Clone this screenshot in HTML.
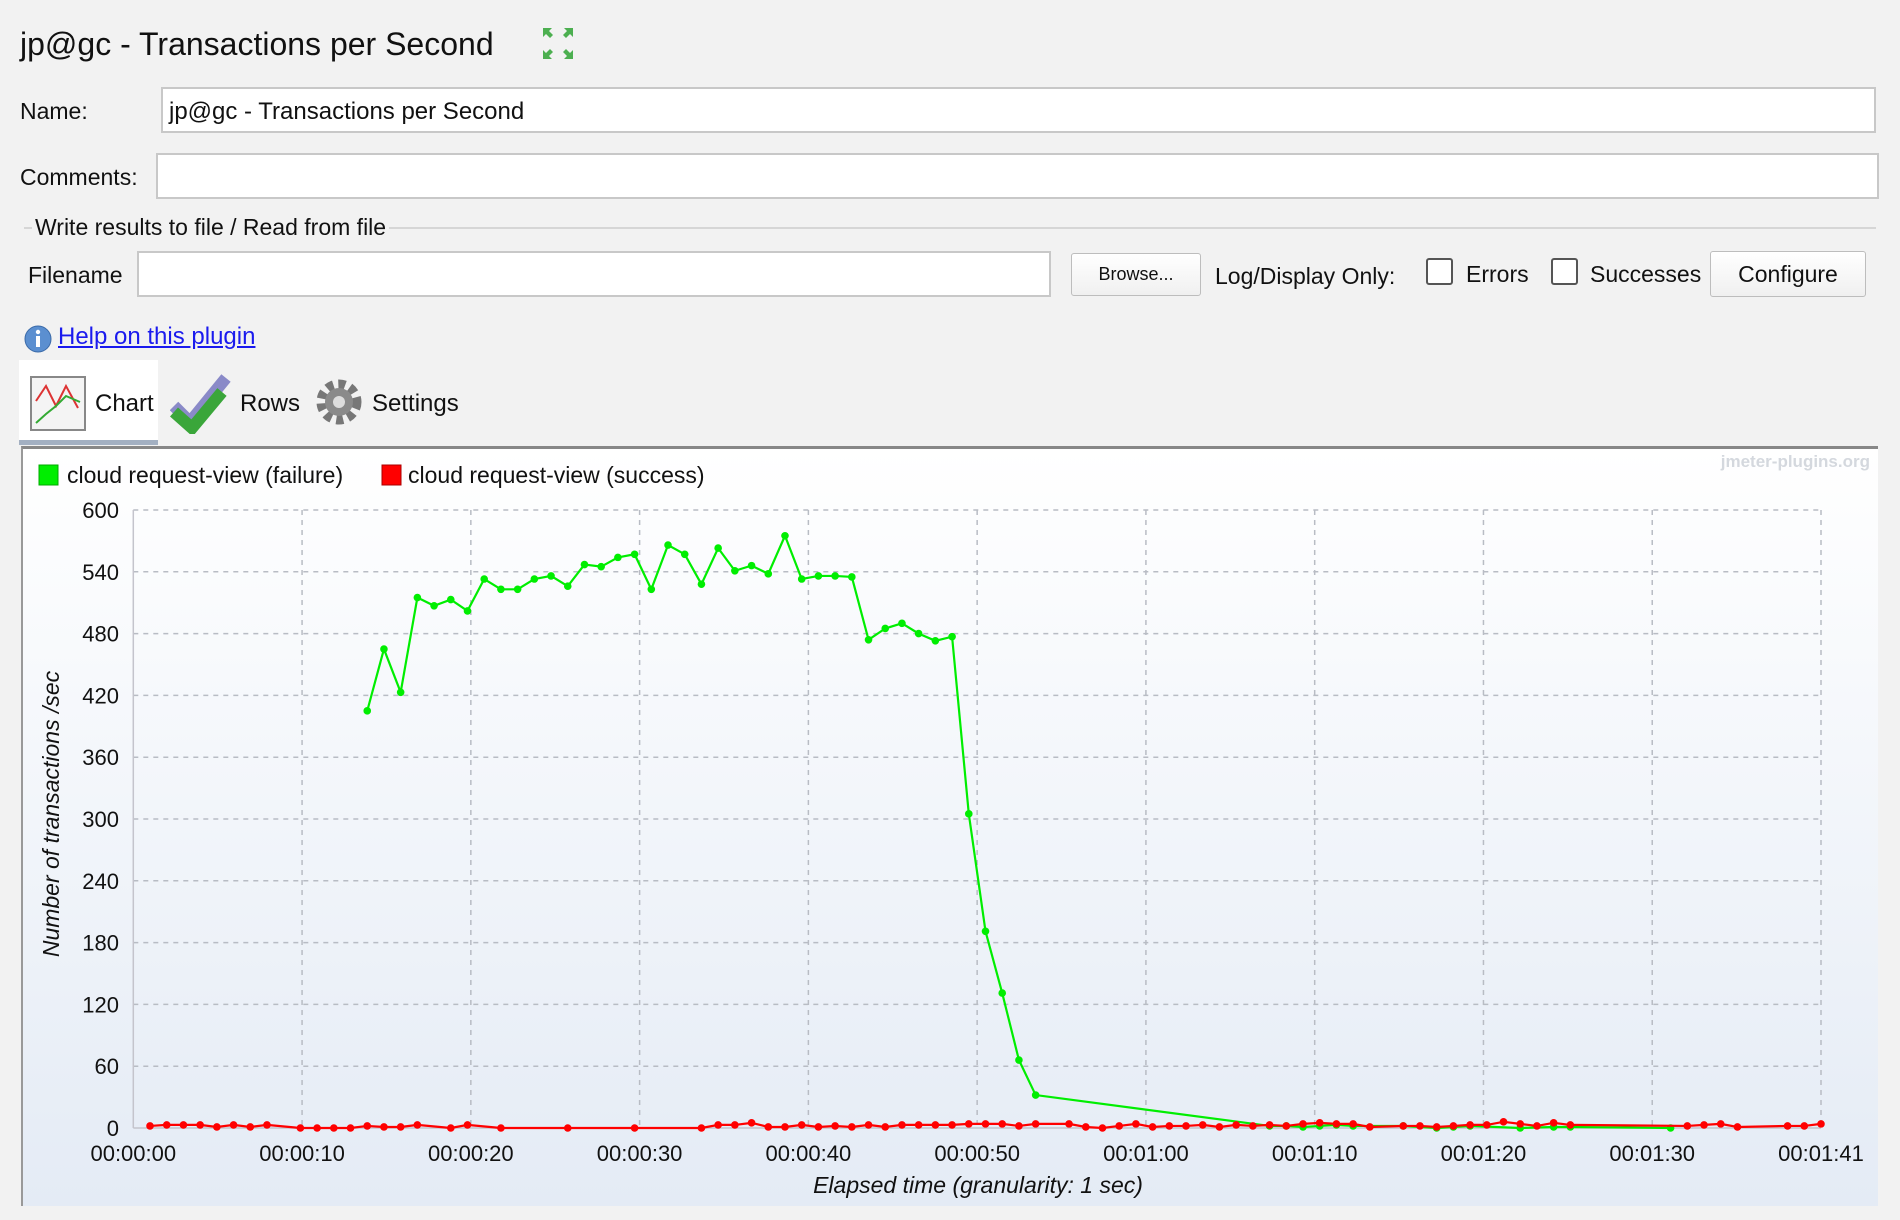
<!DOCTYPE html>
<html><head><meta charset="utf-8">
<style>
body{margin:0;width:1900px;height:1220px;background:#f2f2f2;font-family:"Liberation Sans",sans-serif;color:#111;position:relative;overflow:hidden}
.a{position:absolute;white-space:nowrap}
.inp{position:absolute;background:#fff;border:2px solid #c8c8c8;box-sizing:border-box}
.btn{position:absolute;background:linear-gradient(#fff,#f0f0f0);border:1px solid #bdbdbd;border-radius:3px;box-sizing:border-box;text-align:center}
.cb{position:absolute;width:27px;height:27px;background:#fff;border:2px solid #555;box-sizing:border-box;border-radius:3px}
</style></head><body>
<div class="a" style="left:20px;top:26px;font-size:32px">jp@gc - Transactions per Second</div>
<svg class="a" style="left:542px;top:27px" width="32" height="33" viewBox="0 0 32 33"><g fill="#4caf50"><path d="M1 1h9l-3 3 4 4-3 3-4-4-3 3z"/><path d="M31 1h-9l3 3-4 4 3 3 4-4 3 3z"/><path d="M1 32h9l-3-3 4-4-3-3-4 4-3-3z"/><path d="M31 32h-9l3-3-4-4 3-3 4 4 3-3z"/></g></svg>
<div class="a" style="left:20px;top:98px;font-size:23px">Name:</div>
<div class="inp" style="left:161px;top:87px;width:1715px;height:46px;font-size:24px;padding:9px 6px">jp@gc - Transactions per Second</div>
<div class="a" style="left:20px;top:164px;font-size:23px">Comments:</div>
<div class="inp" style="left:156px;top:153px;width:1723px;height:46px"></div>
<div class="a" style="left:24px;top:227px;width:1852px;height:2px;background:#d6d6d6"></div>
<div class="a" style="left:32px;top:214px;font-size:23px;background:#f2f2f2;padding:0 3px">Write results to file / Read from file</div>
<div class="a" style="left:28px;top:262px;font-size:23px">Filename</div>
<div class="inp" style="left:137px;top:251px;width:914px;height:46px"></div>
<div class="btn" style="left:1071px;top:253px;width:130px;height:43px;font-size:18px;line-height:41px">Browse...</div>
<div class="a" style="left:1215px;top:263px;font-size:23px">Log/Display Only:</div>
<div class="cb" style="left:1426px;top:258px"></div>
<div class="a" style="left:1466px;top:261px;font-size:23px">Errors</div>
<div class="cb" style="left:1551px;top:258px"></div>
<div class="a" style="left:1590px;top:261px;font-size:23px">Successes</div>
<div class="btn" style="left:1710px;top:251px;width:156px;height:46px;font-size:23px;line-height:44px">Configure</div>
<svg class="a" style="left:24px;top:325px" width="28" height="28"><circle cx="14" cy="14" r="13" fill="#5b8fd0" stroke="#3a6aa8"/><rect x="12" y="11" width="4" height="11" fill="#fff"/><circle cx="14" cy="7" r="2.2" fill="#fff"/></svg>
<div class="a" style="left:58px;top:323px;font-size:24px;color:#1a1aee;text-decoration:underline">Help on this plugin</div>
<div class="a" style="left:19px;top:360px;width:139px;height:80px;background:#fff"></div>
<div class="a" style="left:19px;top:440px;width:139px;height:5px;background:#a3b0c2"></div>
<svg class="a" style="left:30px;top:376px" width="56" height="55"><rect x="1" y="1" width="54" height="53" fill="#f4f4f4" stroke="#888" stroke-width="2"/><path d="M6 25 L16 10 L26 30 L36 10 L48 32" fill="none" stroke="#d33" stroke-width="2"/><path d="M6 47 L16 38 L26 30 L36 20 L50 26" fill="none" stroke="#3a3" stroke-width="2"/></svg>
<div class="a" style="left:95px;top:390px;font-size:24px">Chart</div>
<svg class="a" style="left:170px;top:370px" width="62" height="64"><path d="M4 36 L20 52 L56 8" fill="none" stroke="#8a8ac8" stroke-width="12"/><path d="M4 42 L22 58 L52 22" fill="none" stroke="#3aa63a" stroke-width="12"/></svg>
<div class="a" style="left:240px;top:390px;font-size:24px">Rows</div>
<svg class="a" style="left:315px;top:378px" width="48" height="48"><circle cx="24" cy="24" r="18" fill="none" stroke="#777" stroke-width="9" stroke-dasharray="7 5"/><circle cx="24" cy="24" r="14" fill="#8a8a8a"/><circle cx="24" cy="24" r="6" fill="#ddd"/></svg>
<div class="a" style="left:372px;top:390px;font-size:24px">Settings</div>

<div class="a" style="left:21px;top:446px;width:1857px;height:760px;background:linear-gradient(#ffffff,#e4ebf5);border-top:3px solid #888;border-left:2px solid #999;box-sizing:border-box"></div>
<svg id="chart" class="a" style="left:0;top:0" width="1900" height="1220"></svg>
<script>
const seconds = Array.from({length:102},(_, i)=>i);
const failureValues = [null,null,null,null,null,null,null,null,null,null,null,null,null,null,
405,465,423,515,507,513,502,533,523,523,533,536,526,547,545,554,557,523,566,557,528,563,541,546,538,575,533,536,536,535,474,485,490,480,473,477,305,191,131,66,32,
null,null,null,null,null,null,null,null,null,null,null,null,null,
2,2,1,2,3,2,null,null,2,null,0,1,2,null,null,0,null,1,1,null,null,null,null,null,0,null,null,null,null,null,null,null,null,null];
const successValues = [null,2,3,3,3,1,3,1,3,null,0,0,0,0,2,1,1,3,null,0,3,null,0,null,null,null,0,null,null,null,0,null,null,null,
0,3,3,5,1,1,3,1,2,1,3,1,3,3,3,3,4,4,4,2,4,null,4,1,0,2,4,1,2,2,3,1,3,2,3,2,4,5,4,4,1,null,2,2,1,2,3,3,6,4,2,5,3,null,null,null,null,null,null,2,3,4,1,null,null,2,2,4];
const yTicks = [0,60,120,180,240,300,360,420,480,540,600];
const xTickSecs = [0,10.1,20.2,30.3,40.4,50.5,60.6,70.7,80.8,90.9,101];
const xTickLabels = ["00:00:00","00:00:10","00:00:20","00:00:30","00:00:40","00:00:50","00:01:00","00:01:10","00:01:20","00:01:30","00:01:41"];

const X0=133.3,X1=1821,Y0=1128,Y1=510;
const xs=t=>X0+(X1-X0)*t/101;
const ys=v=>Y0-(Y0-Y1)*v/600;
const svg=document.getElementById('chart');
const NS='http://www.w3.org/2000/svg';
function mk(tag,at,parent){const e=document.createElementNS(NS,tag);for(const k in at)e.setAttribute(k,at[k]);(parent||svg).appendChild(e);return e;}

yTicks.forEach(v=>{
  const l=mk('line',{x1:X0,x2:X1,y1:ys(v),y2:ys(v),stroke:v===0?'#c4c4cc':'#b8bcc4','stroke-width':1.5,'stroke-dasharray':v===0?'':'5 5'});
  
  
  const t=mk('text',{x:119,y:ys(v)+8,'text-anchor':'end','font-size':22,fill:'#111'});
  t.textContent=v;
  
  
});
xTickSecs.forEach((s,i)=>{
  const l=mk('line',{x1:xs(s),x2:xs(s),y1:Y1,y2:Y0,stroke:s===0?'#c4c4cc':'#b8bcc4','stroke-width':1.5,'stroke-dasharray':s===0?'':'5 5'});
  
  
  const t=mk('text',{x:xs(s),y:1161,'text-anchor':'middle','font-size':22,fill:'#111'});
  t.textContent=xTickLabels[i];
  
  
});
function series(vals,color,name){
  const pts=[];vals.forEach((v,i)=>{if(v!==null)pts.push([xs(seconds[i]),ys(v)]);});
  const p=mk('polyline',{points:pts.map(p=>p.join(',')).join(' '),fill:'none',stroke:color,'stroke-width':2.2});
  
  
  pts.forEach(q=>{
    const c=mk('circle',{cx:q[0],cy:q[1],r:3.8,fill:color});
    
    
  });
}
series(failureValues,'#00ee00','failure');
series(successValues,'#ff0000','success');

let e;
e=mk('rect',{x:39,y:465,width:19,height:20,fill:'#00ee00',stroke:'#0a0','stroke-width':1});

e=mk('text',{x:67,y:483,'font-size':23,fill:'#111'});e.textContent='cloud request-view (failure)';

e=mk('rect',{x:382,y:465,width:19,height:20,fill:'#ff0000',stroke:'#a00','stroke-width':1});

e=mk('text',{x:408,y:483,'font-size':23,fill:'#111'});e.textContent='cloud request-view (success)';

e=mk('text',{x:1870,y:467,'text-anchor':'end','font-size':17,fill:'#d4d8de','font-weight':'bold'});e.textContent='jmeter-plugins.org';

e=mk('text',{x:978,y:1193,'text-anchor':'middle','font-size':23,'font-style':'italic',fill:'#111'});e.textContent='Elapsed time (granularity: 1 sec)';

e=mk('text',{x:0,y:0,'text-anchor':'middle','font-size':23,'font-style':'italic',fill:'#111',transform:'translate(59,814) rotate(-90)'});e.textContent='Number of transactions /sec';

</script>
</body></html>
